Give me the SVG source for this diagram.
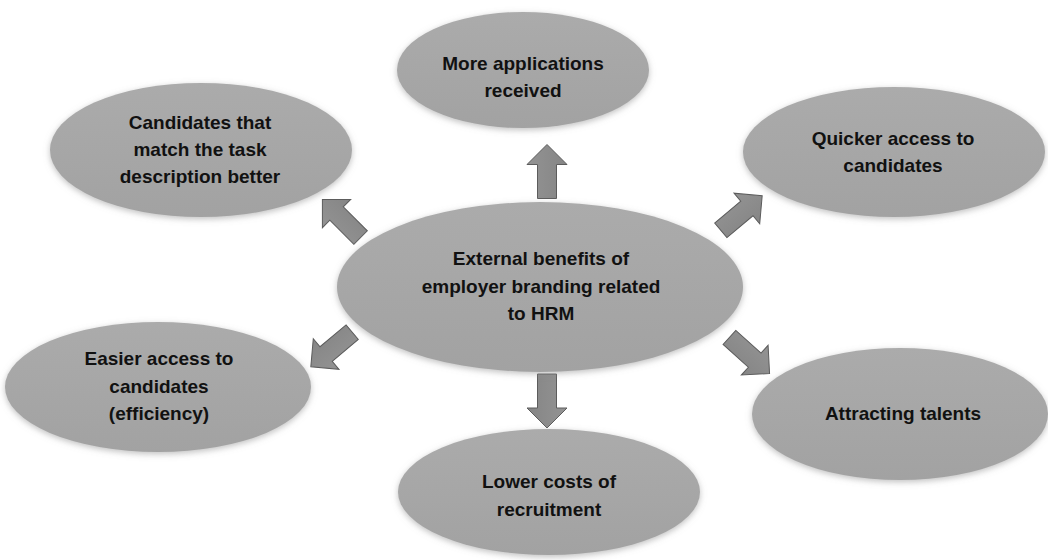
<svg xmlns="http://www.w3.org/2000/svg" width="1048" height="560" viewBox="0 0 1048 560">
  <defs>
    <linearGradient id="nodeFill" x1="0" y1="0" x2="0" y2="1">
      <stop offset="0" stop-color="#ababab"/>
      <stop offset="1" stop-color="#a2a2a2"/>
    </linearGradient>
    <linearGradient id="arrowFill" x1="0" y1="0" x2="1" y2="0">
      <stop offset="0" stop-color="#939393"/>
      <stop offset="1" stop-color="#858585"/>
    </linearGradient>
    <filter id="soft" x="-10%" y="-15%" width="120%" height="135%">
      <feGaussianBlur in="SourceAlpha" stdDeviation="3"/>
      <feOffset dx="0" dy="2" result="blur"/>
      <feFlood flood-color="#8c8c8c" flood-opacity="0.55"/>
      <feComposite in2="blur" operator="in" result="shadow"/>
      <feMerge>
        <feMergeNode in="shadow"/>
        <feMergeNode in="SourceGraphic"/>
      </feMerge>
    </filter>
    <!-- block arrow pointing up, centred on the origin -->
    <polygon id="blockArrow" points="0,-27 20,-7 9.5,-7 9.5,27 -9.5,27 -9.5,-7 -20,-7"/>
  </defs>
  <style>
    .node ellipse { fill: url(#nodeFill); filter: url(#soft); }
    .node text { font-family: "Liberation Sans", Arial, sans-serif; font-weight: bold; font-size: 19px; fill: #111111; text-anchor: middle; }
    .arrow { fill: url(#arrowFill); stroke: #5c5c5c; stroke-width: 1; stroke-linejoin: miter; }
  </style>
  <rect width="1048" height="560" fill="#ffffff"/>

  <g id="connectors">
    <use href="#blockArrow" class="arrow" transform="translate(547,171.5)"/>
    <use href="#blockArrow" class="arrow" transform="translate(547,401) rotate(180)"/>
    <use href="#blockArrow" class="arrow" transform="translate(341.5,218.5) rotate(-45)"/>
    <use href="#blockArrow" class="arrow" transform="translate(741.5,213) rotate(50)"/>
    <use href="#blockArrow" class="arrow" transform="translate(749.5,355.5) rotate(132)"/>
    <use href="#blockArrow" class="arrow" transform="translate(331.5,349.5) rotate(-130)"/>
  </g>

  <g id="node-center" class="node">
    <ellipse cx="540" cy="287" rx="203" ry="85"/>
    <text x="541" y="265">External benefits of</text>
    <text x="541" y="293">employer branding related</text>
    <text x="541" y="320">to HRM</text>
  </g>

  <g id="node-applications" class="node">
    <ellipse cx="523" cy="70" rx="126" ry="58"/>
    <text x="523" y="70">More applications</text>
    <text x="523" y="97">received</text>
  </g>

  <g id="node-match" class="node">
    <ellipse cx="201" cy="150" rx="151" ry="67"/>
    <text x="200" y="129">Candidates that</text>
    <text x="200" y="156">match the task</text>
    <text x="200" y="183">description better</text>
  </g>

  <g id="node-quicker" class="node">
    <ellipse cx="894" cy="152" rx="151" ry="65"/>
    <text x="893" y="145">Quicker access to</text>
    <text x="893" y="172">candidates</text>
  </g>

  <g id="node-easier" class="node">
    <ellipse cx="158" cy="387" rx="153" ry="65"/>
    <text x="159" y="365">Easier access to</text>
    <text x="159" y="393">candidates</text>
    <text x="159" y="420">(efficiency)</text>
  </g>

  <g id="node-talents" class="node">
    <ellipse cx="900" cy="414" rx="148" ry="66"/>
    <text x="903" y="420">Attracting talents</text>
  </g>

  <g id="node-costs" class="node">
    <ellipse cx="549" cy="492" rx="151" ry="63"/>
    <text x="549" y="488">Lower costs of</text>
    <text x="549" y="516">recruitment</text>
  </g>
</svg>
